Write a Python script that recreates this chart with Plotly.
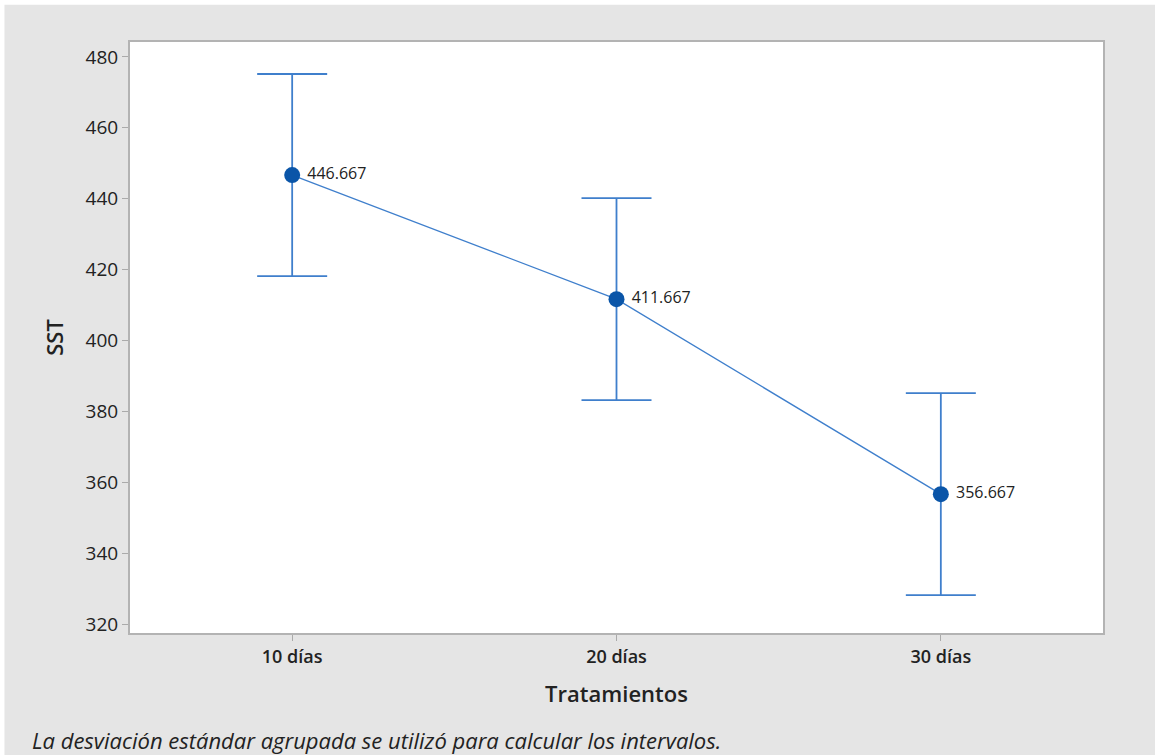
import plotly.graph_objects as go

tratamientos = ["10 días", "20 días", "30 días"]
medias = [446.667, 411.667, 356.667]
semi_intervalo = [28.5, 28.5, 28.5]
y_ticks = [320, 340, 360, 380, 400, 420, 440, 460, 480]

FONT = "Open Sans, Noto Sans, sans-serif"
AZUL_LINEA = "#3f7fcc"
AZUL_PUNTO = "#0a55a8"
GRIS_FONDO = "#e5e5e5"

fig = go.Figure()
fig.add_trace(go.Scatter(
    x=list(range(len(tratamientos))),
    y=medias,
    mode="lines+markers+text",
    line=dict(color=AZUL_LINEA, width=1.3),
    marker=dict(color=AZUL_PUNTO, size=16),
    text=[f" {m:.3f}" for m in medias],
    textposition="middle right",
    textfont=dict(family=FONT, size=16, color="#222222"),
    error_y=dict(type="data", array=semi_intervalo, visible=True,
                 color=AZUL_LINEA, thickness=1.8, width=35),
    hoverinfo="skip",
    showlegend=False,
))

# thin white margin along the top and left edges of the gray frame
fig.add_shape(type="rect", xref="paper", yref="paper",
              x0=-0.2, x1=1.2, y0=1.063, y1=1.2,
              fillcolor="white", line_width=0, layer="below")
fig.add_shape(type="rect", xref="paper", yref="paper",
              x0=-0.2, x1=-0.129, y0=-0.4, y1=1.2,
              fillcolor="white", line_width=0, layer="below")

fig.add_annotation(
    text="<i>La desviación estándar agrupada se utilizó para calcular los intervalos.</i>",
    xref="paper", yref="paper", x=-0.103, y=-0.181,
    xanchor="left", yanchor="middle", showarrow=False,
    font=dict(family=FONT, size=22, color="#222222"),
)

fig.update_layout(
    width=1155, height=755,
    margin=dict(l=130, r=52, t=42, b=122),
    paper_bgcolor=GRIS_FONDO,
    plot_bgcolor="white",
    font=dict(family=FONT, color="#222222"),
    xaxis=dict(
        range=[-0.5, 2.5],
        tickmode="array", tickvals=list(range(len(tratamientos))), ticktext=tratamientos,
        ticks="outside", ticklen=6, tickcolor="#aaaaaa", tickwidth=1,
        tickfont=dict(family=FONT, size=18, color="#222222", weight=600),
        showline=True, linecolor="#b3b3b3", linewidth=2, mirror=True,
        showgrid=False, zeroline=False,
        title=dict(text="Tratamientos", font=dict(family=FONT, size=22, color="#222222", weight=600),
                   standoff=20),
    ),
    yaxis=dict(
        range=[317.5, 484.2],
        tickmode="array", tickvals=y_ticks,
        ticks="outside", ticklen=6, tickcolor="#aaaaaa", tickwidth=1,
        tickfont=dict(family=FONT, size=19, color="#222222"),
        showline=True, linecolor="#b3b3b3", linewidth=2, mirror=True,
        showgrid=False, zeroline=False,
        title=dict(text="SST", font=dict(family=FONT, size=22, color="#222222", weight=600),
                   standoff=16),
    ),
)

fig.write_html("out.html")
